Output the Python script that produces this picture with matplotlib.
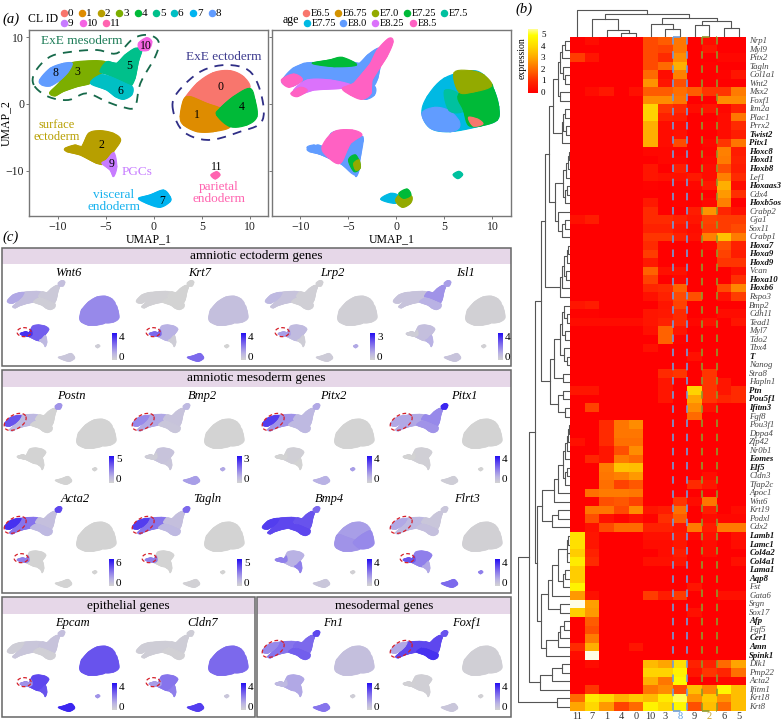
import numpy as np
import matplotlib
matplotlib.use('Agg')
import matplotlib.pyplot as plt
from matplotlib.colors import LinearSegmentedColormap
from matplotlib.patches import Polygon, Rectangle

plt.rcParams['font.family'] = ['Liberation Serif', 'DejaVu Serif']

W, H = 783, 726

# ---- UMAP data: cluster outlines in UMAP units
cluster_ids = list(range(12))
cluster_colors = ['#F8766D', '#DE8C00', '#B79F00', '#7CAE00', '#00BA38', '#00C08B',
                  '#00BFC4', '#00B4F0', '#619CFF', '#C77CFF', '#F564E3', '#FF64B0']
cluster_outlines = [
    [(3.1, .6), (4.5, 3.1), (6.2, 4.7), (7.95, 5), (9.35, 4.1), (10, 2.35), (8.3, 1.1), (6.9, -.65), (5.5, .1), (3.8, 1.1)],
    [(2.75, -1.9), (3.1, .6), (3.8, 1.1), (5.5, .1), (6.9, -.65), (6.55, -1.65), (7.95, -3.4), (6.2, -4.15), (4.5, -4.15), (3.1, -3.15)],
    [(-9.25, -6.65), (-8.2, -6.15), (-7.5, -6.4), (-6.8, -4.4), (-5.6, -4), (-4.2, -4.4), (-3.45, -5.4), (-4.2, -7.15), (-5.05, -8.9), (-5.95, -8.9), (-7.65, -7.65), (-9.05, -7.15)],
    [(-10.85, 1.7), (-9.9, 3.1), (-8.9, 5.1), (-8.55, 6.2), (-5.95, 6.5), (-4.9, 6.1), (-5.6, 4.35), (-6.6, 3.1), (-8, 2.6), (-9.4, 1.9), (-10.3, 1.2)],
    [(6.9, -.65), (8.3, 1.1), (10, 2.35), (10.55, .6), (10.75, -1.9), (9.7, -3.15), (7.95, -3.4), (6.55, -1.65)],
    [(-4.9, 6.35), (-3.85, 6.1), (-3, 7.35), (-1.95, 8.35), (-1.25, 8.1), (-1.6, 6.35), (-1.95, 3.85), (-2.45, 2.6), (-3.15, 2.85), (-4.7, 4.35), (-5.6, 4.85)],
    [(-4.55, 4.1), (-3, 3.1), (-2.2, 2.5), (-2.3, 1.35), (-3.15, .7), (-4, 1.1), (-4.9, 2.1), (-6.6, 3.1), (-5.6, 4.35)],
    [(-1.6, -14.15), (-.4, -13.65), (1, -12.9), (1.7, -13.9), (1.7, -14.65), (.65, -15.5), (-.75, -14.9)],
    [(-11.9, 3.6), (-10.8, 5.35), (-9.4, 6.1), (-8.5, 6.1), (-8.9, 4.85), (-9.75, 3.6), (-10.8, 2.7), (-11.65, 2.85)],
    [(-4.9, -8.4), (-4.15, -7.3), (-3.85, -9.4), (-4.2, -10.9), (-4.55, -9.9), (-5.4, -8.9)],
    [(-1.6, 9.1), (-.75, 9.95), (-.2, 9.35), (-.55, 8.1), (-1.4, 8.1)],
    [(5.95, -10.65), (6.55, -10.15), (6.9, -10.65), (6.4, -11.25)],
]
amnion_tip = [(-9.25, -6.65), (-8.2, -6.15), (-7.5, -6.4), (-7, -5.6), (-6.9, -7.2), (-7.65, -7.65), (-9.05, -7.15)]
cluster_labels_xy = [(6.95, 2.6), (4.5, -1.7), (-5.45, -6.2), (-8, 4.8), (9.15, -.5), (-2.6, 5.7), (-3.5, 1.9),
                     (.85, -14.5), (-10.2, 4.6), (-4.35, -9), (-.85, 8.75), (6.5, -9.5)]

mesoderm_ring = [(-12.5, 2.85), (-12.35, 4.85), (-10.8, 7.1), (-8.5, 7.85), (-5.9, 8.1), (-3.85, 7.6), (-2.1, 9.85),
                 (-.55, 10.35), (.5, 9.35), (.15, 7.1), (-1.4, 3.1), (-1.95, -.4), (-3.15, -.5), (-4.9, .35),
                 (-7, 1.6), (-8.9, .6), (-11, 1.1)]
ectoderm_ring = [(2, -.9), (2.4, 1.6), (4.85, 4.85), (7.6, 5.85), (10.05, 4.85), (11.25, 1.1), (11.25, -2.65),
                 (9, -4.15), (5.7, -5.4), (3.1, -4.15)]

ages = ['E6.5', 'E6.75', 'E7.0', 'E7.25', 'E7.5', 'E7.75', 'E8.0', 'E8.25', 'E8.5']
age_colors = ['#F8766D', '#D39200', '#93AA00', '#00BA38', '#00C19F', '#00B9E3', '#619CFF', '#DB72FB', '#FF61C3']
# clusters painted E8.0 blue first, so the age patches below sit on a closed shape
age_base_clusters = [2, 3, 5, 6, 8, 9]
# (age index, outline), later ones paint over earlier ones
age_regions = [
    (6, [(-11, 4.35), (-9.65, 6.1), (-6.9, 5.85), (-3.75, 5.6), (-2.7, 6.1), (-2, 5.85), (-3.4, 3.6), (-5.15, 3.35), (-8.6, 3.6), (-10, 3.6)]),
    (3, [(-8.8, 6.1), (-7, 6.6), (-5.65, 7), (-4.15, 5.85), (-6.5, 5.6)]),
    (7, [(-10.7, 2.1), (-9.3, 3.6), (-6.9, 3.6), (-4.7, 2.85), (-5.65, 2.35), (-8.6, 2.1), (-10.2, 1.35)]),
    (8, [(-2, 8.1), (-.8, 9.85), (-.35, 9.35), (-1, 7.1), (-2.55, 3.6), (-2.65, 1.6), (-3.6, .7), (-4.8, 1.35), (-5.65, 2.35), (-4.45, 3.1), (-3.4, 4.85), (-2.7, 6.1)]),
    (8, [(-12, 3.6), (-10.7, 4.5), (-9.8, 3.6), (-11.2, 2.5)]),
    (8, [(-11, 1.6), (-10, 2.5), (-9.3, 2), (-10.35, 1.1)]),
    (6, [(-9.3, -6.65), (-8.6, -6.15), (-7.75, -6.65), (-4.6, -5.9), (-3.5, -4.9), (-3.75, -7.9), (-4.25, -10.65), (-5.85, -8.9), (-7.4, -7.9)]),
    (8, [(-7.75, -6.4), (-6.5, -4.15), (-4.6, -3.9), (-3.6, -4.65), (-4.8, -5.9), (-5.85, -8.9), (-7.2, -7.9)]),
    (3, [(-5, -8.4), (-4.25, -7.65), (-3.75, -9.4), (-4.4, -10.15)]),
    (2, [(-4.45, -8.9), (-3.9, -8.4), (-3.8, -9.65), (-4.25, -9.9)]),
    (5, [(2.65, -1.4), (3.2, 1.1), (4.95, 3.85), (7.7, 5), (9.1, 4.35), (10.15, 2.1), (10.65, -.4), (10.5, -2.4), (8.75, -3.3), (5.6, -4.15), (3.55, -3.65)]),
    (6, [(2.65, -1.4), (4, -.5), (5.5, -1), (6.5, -2.5), (6.5, -3.6), (5.6, -4.15), (3.55, -3.65)]),
    (4, [(5, 2), (6.5, 1.5), (7, -1), (5.5, -1)]),
    (3, [(6.5, 1.5), (9.5, 3.2), (10.15, 2.1), (10.65, -.4), (10.5, -2.4), (8.75, -3.3), (7.5, -3.2), (7, -1)]),
    (2, [(6, 4.7), (7.7, 5), (9.1, 4.35), (9.9, 2.7), (8, 1.8), (6.5, 1.8)]),
    (0, [(7.5, -2), (8.5, -2.3), (9, -3), (8, -3.3)]),
    (5, [(-1.65, -14.3), (-.6, -13.4), (.25, -13.8), (-.1, -14.9)]),
    (2, [(-.1, -14.4), (.75, -13.15), (1.6, -13.9), (1.45, -14.9), (.6, -15.5)]),
    (3, [(.25, -13.4), (1.1, -12.75), (1.5, -13.65), (.75, -14.15)]),
    (4, [(5.9, -10.6), (6.5, -10.1), (6.9, -10.6), (6.4, -11.2)]),
]

# ---- feature plots: level per cluster 0..11, last value is the amnion tip of cluster 2
feature_genes = ['Wnt6', 'Krt7', 'Lrp2', 'Isl1', 'Postn', 'Bmp2', 'Pitx2', 'Pitx1',
                 'Acta2', 'Tagln', 'Bmp4', 'Flrt3', 'Epcam', 'Cldn7', 'Fn1', 'Foxf1']
feature_max = [4, 4, 3, 4, 5, 3, 4, 4, 6, 5, 4, 4, 4, 4, 4, 4]
feature_levels = [
    [.45, .45, .65, .15, .45, .08, .05, .1, .3, .2, .15, .05, .85],
    [.15, .15, .25, .02, .15, 0, 0, .6, .02, .05, 0, 0, .6],
    [.03, .03, .18, .12, .03, .03, .03, .06, .2, .05, .02, .3, .35],
    [.02, .02, .15, .12, .02, .4, .25, .12, .12, .25, .35, .02, .05],
    [0, 0, 0, .2, 0, 0, 0, 0, .7, 0, .4, 0, 0],
    [0, 0, .12, .3, 0, .12, .1, .35, .45, .1, .2, .3, .05],
    [0, 0, .03, .4, 0, .2, .2, .25, .8, 0, .3, .35, 0],
    [0, 0, .03, .3, 0, .45, .4, .05, .3, .03, .9, 0, 0],
    [0, 0, 0, .55, 0, .15, .2, 0, .85, 0, .75, 0, .5],
    [0, 0, 0, .55, 0, .15, .2, .02, .8, 0, .6, 0, .5],
    [.35, .4, .25, .75, .45, .7, .75, .1, .8, .5, .6, .02, .5],
    [.02, .02, .5, .2, .02, .1, .15, .6, .3, .3, .1, .5, .7],
    [.7, .7, .75, .1, .7, .12, .03, .9, .05, .7, .15, .4, .4],
    [.6, .6, .55, .05, .6, .05, .02, .8, .05, .5, .05, .1, .35],
    [.15, .15, .3, .55, .15, .6, .65, .55, .45, .3, .75, .05, .2],
    [.03, .03, .03, .75, .03, .75, .85, .1, .3, .03, .7, .02, .02],
]
# which dashed red rings a panel has: m = mesoderm end, t = amnion tip
feature_rings = ['t', 't', 't', '', 'm', 'm', 'm', 'm', 'mt', 'mt', '', 'mt', 't', 't', 'm', 'm']
feature_anchor_x = [66, 195, 324, 452, 63, 191, 321, 449, 63, 191, 321, 449, 66, 195, 321, 449]
feature_anchor_y = [312] * 4 + [435] * 4 + [538] * 4 + [662] * 4
feature_label_x = [68, 200, 332, 465, 71, 202, 333, 464, 75, 207, 329, 467, 72, 203, 333, 467]

# ---- heatmap
col_order = ['11', '7', '1', '4', '0', '10', '3', '8', '9', '2', '6', '5']
genes = ['Nrp1', 'Myl9', 'Pitx2', 'Tagln', 'Col1a1', 'Wnt2', 'Msx2', 'Foxf1', 'Itm2a', 'Plac1', 'Prrx2', 'Twist2', 'Pitx1',
         'Hoxc8', 'Hoxd1', 'Hoxb8', 'Lef1', 'Hoxaas3', 'Cdx4', 'Hoxb5os', 'Crabp2', 'Gja1', 'Sox11', 'Crabp1', 'Hoxa7', 'Hoxa9',
         'Hoxd9', 'Vcan', 'Hoxa10', 'Hoxb6', 'Rspo3', 'Bmp2', 'Cdh11', 'Tead1', 'Myl7', 'Tdo2', 'Tbx4', 'T', 'Nanog', 'Stra8',
         'Hapln1', 'Ptn', 'Pou5f1', 'Ifitm3', 'Fgf8', 'Pou3f1', 'Dppa4', 'Zfp42', 'Nr0b1', 'Eomes', 'Elf5', 'Cldn3', 'Tfap2c',
         'Apoc1', 'Wnt6', 'Krt19', 'Podxl', 'Cdx2', 'Lamb1', 'Lamc1', 'Col4a2', 'Col4a1', 'Lama1', 'Aqp8', 'Fst', 'Gata6',
         'Srgn', 'Sox17', 'Afp', 'Fgf5', 'Cer1', 'Amn', 'Spink1', 'Dlk1', 'Pmp22', 'Acta2', 'Ifitm1', 'Krt18', 'Krt8']
bold_genes = ['Twist2', 'Pitx1', 'Hoxc8', 'Hoxd1', 'Hoxb8', 'Hoxaas3', 'Hoxb5os', 'Hoxa7', 'Hoxa9', 'Hoxd9', 'Hoxa10', 'Hoxb6',
              'T', 'Ptn', 'Pou5f1', 'Ifitm3', 'Eomes', 'Elf5', 'Lamb1', 'Lamc1', 'Col4a2', 'Col4a1', 'Lama1', 'Aqp8', 'Afp',
              'Cer1', 'Amn', 'Spink1']
expression = [
    [0, .3, 0, 0, 0, 1.5, 1.8, 2.2, 0, .3, 0, 0],
    [0, 0, 0, 0, 0, 1.5, 1.4, 2.2, 0, .5, 0, 0],
    [1.3, .5, 0, 0, 0, 1.5, 1, 2.6, 0, 0, .2, .2],
    [0, 0, 0, 0, 0, 1.5, 2, 3.2, 0, .1, 0, 0],
    [0, 0, 0, 0, 0, 2, .3, 2.4, 0, 0, .1, .5],
    [0, 0, 0, 0, 0, 2.7, .5, 1.6, 0, 0, 0, 0],
    [0, .3, .6, 0, .4, 1.8, 1.8, 2.1, 1.8, 1.2, 1.2, 2.3],
    [0, 0, 0, 0, 0, 2.6, 2.6, 2.2, 0, 0, 2.6, 2.6],
    [0, 0, 0, 0, 0, 3.9, 1.2, 1, .3, .5, .2, .8],
    [0, 0, 0, 0, 0, 3.9, .8, .7, 0, 0, .3, 2.2],
    [0, 0, 0, 0, 0, 3.2, .3, .3, 0, .1, .3, 1],
    [0, 0, 0, 0, 0, 3.2, .3, .4, 0, 0, .3, .7],
    [0, 0, 0, 0, 0, 3.2, .3, 1.5, 0, .2, 1.2, 2.2],
    [0, 0, 0, 0, 0, .2, .2, .1, 0, .1, 2.4, .7],
    [0, 0, 0, 0, 0, 0, .2, .2, 0, .2, 2.3, .8],
    [0, 0, 0, 0, 0, .5, 0, .7, 0, .3, 1.6, .7],
    [0, 0, 0, 0, 0, .5, .4, .4, .6, .3, 2.4, 1],
    [0, 0, 0, 0, 0, .1, 0, .1, .2, .6, 3.2, .3],
    [0, 0, 0, 0, 0, 0, 0, .1, 0, 0, 2.8, 1.1],
    [0, 0, 0, 0, 0, .6, 0, .1, 0, .2, 2.4, 0],
    [0, 0, 0, 0, 0, 1, 0, 0, .7, 2.7, .9, .4],
    [.4, .7, 0, 0, 0, 1, 1, .8, .5, 1.4, 1.3, 1.3],
    [0, 0, 0, 0, 0, .8, .8, .5, .3, 1.3, 1.3, 1.5],
    [0, 0, 0, 0, 0, 1.2, 1.2, .8, .4, 2.4, 3.6, 2.3],
    [0, 0, 0, 0, 0, 1, 0, 0, 0, .2, 1.6, .8],
    [0, 0, 0, 0, 0, 1.3, 0, 0, 0, 0, 1.4, .7],
    [0, 0, 0, 0, 0, .6, 0, 0, 0, 0, 1.2, 1.2],
    [0, 0, 0, 0, 0, 1.9, .4, .4, 0, 0, 0, .4],
    [0, 0, 0, 0, 0, 1.4, 0, .2, 0, 0, 0, 1.1],
    [0, 0, 0, 0, 0, .9, 1, 1.9, 0, 0, 1.5, 2.5],
    [0, 0, 0, 0, 0, .4, .8, 1.5, 1.6, 0, .4, 1.3],
    [.5, .7, 0, 0, 0, 0, .5, 1.4, 0, 0, 0, 0],
    [.1, .1, 0, 0, 0, .5, .6, 1, 0, 0, .3, .3],
    [.3, .3, .3, .3, .3, .5, .8, 1, .2, .4, 0, .5],
    [0, 0, 0, 0, 0, .4, 1.9, .5, 0, 0, 0, 0],
    [0, 0, 0, 0, 0, 0, 1.9, .1, 0, 0, 0, 0],
    [0, 0, 0, 0, 0, .4, 0, 0, 0, 0, 0, 0],
    [0, 0, 0, 0, 0, 0, 0, 0, .4, 0, 0, 0],
    [0, 0, 0, 0, 0, 0, 0, 0, 0, 0, 0, 0],
    [0, 0, 0, 0, 0, 0, 1, 1.2, 0, 1.2, 0, 0],
    [0, 0, 0, 0, 0, 0, .5, 0, 0, 1.2, .5, 0],
    [.5, .5, 0, 0, 0, 0, .5, 0, 3.9, 1.2, .5, 1],
    [0, 0, 0, 0, 0, 0, .5, 0, 3, 1.2, .9, 1],
    [0, 1.4, 0, 0, 0, 0, 0, 0, 2.6, .4, 0, 0],
    [0, 0, 0, 0, 0, 0, 0, 0, 2, 0, 0, 0],
    [0, 0, 1, 2.2, 2.6, 0, 0, 0, 0, 0, 0, 0],
    [0, 0, 1, 2.2, 2.2, 0, 0, 0, 0, 0, 0, 0],
    [.4, 0, 1, 2.1, 2.1, 0, 0, 0, 0, 0, 0, 0],
    [0, 0, .5, 1.6, 2.6, 0, 0, 0, 0, 0, 0, 0],
    [0, .9, .5, 2.3, 2, 0, 0, 0, 0, 0, 0, 0],
    [0, 0, 2.3, 3.6, 3.5, 0, 0, 0, 0, 0, 0, 0],
    [0, 0, 2.2, 2.4, 2.8, 0, 0, 0, 0, .3, 0, 0],
    [0, 0, 2.1, 1.4, 1.7, 0, 0, 0, 1, .5, 0, 0],
    [0, 2.1, 2.3, 2.3, 2.2, 0, 0, 0, 0, 0, 0, 0],
    [0, 0, 1.6, 1.7, 1.4, 0, 0, 1.2, .3, 2.2, 0, 0],
    [0, 2.2, 2.2, 1.5, 2.6, .5, .7, 2.1, 0, .7, 0, .3],
    [0, 1.6, .4, .1, .4, .1, 1.1, 1.8, 0, .3, .2, .2],
    [0, .4, 1.5, 2, 2, .8, .8, .5, 2.3, .7, 2.3, 2.3],
    [4.2, .5, 0, 0, 0, .4, .4, .6, .2, .4, 0, .4],
    [4.2, .5, 0, 0, 0, .3, .3, .5, 0, .3, 0, .3],
    [3.8, .8, 0, 0, 0, 0, .3, .7, 0, .3, 0, 0],
    [4.5, 1, 0, 0, 0, .4, .4, .5, 0, 0, 0, .4],
    [3.8, 0, 0, 0, 0, 0, 0, 0, 0, 0, 0, 0],
    [3.8, 0, 0, 0, 0, 0, 0, 0, 0, 0, 0, 0],
    [4.7, 0, 0, 0, 0, 0, 0, 0, .5, 0, 0, 0],
    [2.8, .4, 0, 0, 0, 1.3, .7, 1.3, 0, 0, .4, .4],
    [5.8, 2.9, 0, 0, 0, 0, 0, 0, 0, 0, 0, 0],
    [3.8, 2.8, 0, 0, 0, 0, 0, 0, .4, 0, 0, 0],
    [0, 1.8, 0, 0, 0, 0, 0, 0, 0, 0, 0, 0],
    [0, 1.6, 0, 0, 0, 0, 0, 0, 0, 0, 0, 0],
    [0, 2.3, 0, 0, 0, 0, 0, 0, 0, 0, 0, 0],
    [1, 3.2, 0, 0, .5, 0, 0, 0, 0, 0, 0, 0],
    [.3, 5.8, 0, 0, 0, 0, 0, 0, 0, 0, 0, 0],
    [0, .3, 0, 0, 0, 3.4, 3, 4.2, .8, .8, 2, 3],
    [0, 0, 0, 0, 0, 3.9, 3.9, 4.7, .5, 1.2, .9, 2.1],
    [0, 0, 0, 0, 0, 3.2, 2.2, 4.9, 0, 0, .2, .2],
    [0, 1.2, 0, 0, 0, 2.2, 2.6, 1.6, 3.5, 2.5, 4.8, 3.5],
    [2, 4.5, 4, 3.3, 3.7, 3.4, 4.5, 5.3, 2.7, 3.7, 2.7, 3.5],
    [3, 4, 2.8, 1.4, 2, 4.7, 4, 4.8, 1.6, 3.5, 2, 3.5],
]

# dendrograms as (height, left, right), leaves are row / column numbers
col_tree = (27, 0, (23, (18, 1, (7, 2, (3.5, 3, 4))), (19, (13, 5, (8, 6, 7)), (16, (12, 8, 9), (9, 10, 11)))))
t_a = (12, (10, (8, (5, 0, 1), 2), (7, 3, (5, 4, 5))), (10, 6, 7))
t_b = (8, (7, (5, 8, 9), (4, 10, 11)), 12)
t_c = (7, (4, (2.5, (1.5, 13, 14), 15), 16), (5, (3, 17, 18), 19))
t_d = (12, 20, (8, (5, 21, 22), 23))
t_e = (10, (8, (6, (3.5, (2, 24, 25), 26), (4.5, 27, 28)), 29), 30)
t_f = (16, (10, (8, (6, 31, (3, 32, 33)), (5, 34, 35)), (6, 36, (3, 37, 38))), (7, 39, 40))
t_g = (12, (7, 41, 42), (5, 43, 44))
t_h = (7, (5, (3, (2, (1.5, 45, 46), 47), 48), 49), (5, (3, 50, 51), 52))
t_k = (18, (12, 55, 56), 57)
t_m = (18, (12, (3.5, (2, 58, 59), (3, 60, 61)), (7, (5, 62, 63), 64)), 65)
t_o = (24, (12, (10, (6, 68, 69), 70), 71), 72)
upper = (29, (25, (21, (17, t_a, t_b), (15, t_c, t_d)), t_e), (20, t_f, t_g))
lower = (33, (28, (16, (12, t_h, 53), 54), t_k), (29, (22, t_m, (10, 66, 67)), t_o))
row_tree = (52, (41, (35, upper, lower), (30, (18, (8, 73, 74), 75), 76)), (13, 77, 78))


def px_axes(fig, x0, y0, x1, y1, **kw):
    return fig.add_axes([x0 / W, 1 - y1 / H, (x1 - x0) / W, (y1 - y0) / H], **kw)


def smooth(poly, steps=6):
    # closed Catmull-Rom through the outline points, only to round the corners
    p = np.array(poly, dtype=float)
    out = []
    for i in range(len(p)):
        p0, p1, p2, p3 = p[i - 1], p[i], p[(i + 1) % len(p)], p[(i + 2) % len(p)]
        for t in np.arange(steps) / steps:
            out.append(.5 * (2 * p1 + (p2 - p0) * t + (2 * p0 - 5 * p1 + 4 * p2 - p3) * t ** 2
                             + (3 * p1 - p0 - 3 * p2 + p3) * t ** 3))
    return np.array(out)


def blob(ax, poly, color, lw=.8, zorder=2):
    # the straight outline underneath closes the seams between neighbouring clusters
    ax.add_patch(Polygon(poly, closed=True, fc=color, ec=color, lw=lw, zorder=zorder))
    ax.add_patch(Polygon(smooth(poly), closed=True, fc=color, ec=color, lw=lw, zorder=zorder))


def tree(ax, node, horizontal):
    # returns leaf-axis position and height of the node
    if not isinstance(node, tuple):
        return node, 0
    h, a, b = node
    pa, ha = tree(ax, a, horizontal)
    pb, hb = tree(ax, b, horizontal)
    ps, hs = [pa, pa, pb, pb], [ha, h, h, hb]
    if horizontal:
        ax.plot(hs, ps, color='#555555', lw=.8, solid_capstyle='projecting')
    else:
        ax.plot(ps, hs, color='#555555', lw=.8, solid_capstyle='projecting')
    return (pa + pb) / 2, h


def ring(ax, cx, cy, wpx, hpx, angle, sx, sy):
    t = np.linspace(0, 2 * np.pi, 80)
    a = np.deg2rad(angle)
    u, v = wpx / 2 * np.cos(t), hpx / 2 * np.sin(t)
    ax.plot(cx + (u * np.cos(a) - v * np.sin(a)) / sx, cy + (u * np.sin(a) + v * np.cos(a)) / sy,
            color='#d6202a', lw=.9, ls=(0, (3, 2)), zorder=6, clip_on=False)


fig = plt.figure(figsize=(W / 100, H / 100), dpi=100)
over = px_axes(fig, 0, 0, W, H)
over.set_xlim(0, W)
over.set_ylim(H, 0)
over.axis('off')

# ---- panel (a)
frame_c = '#777777'
ax_a = px_axes(fig, 29, 30, 268, 216)
ax_b = px_axes(fig, 271.7, 30, 510.7, 216)
for ax in (ax_a, ax_b):
    ax.set_xlim(-13, 11.9)
    ax.set_ylim(-16.8, 11.1)
    ax.set_xticks([-10, -5, 0, 5, 10])
    ax.set_yticks([-10, 0, 10])
    ax.tick_params(labelsize=8.5, length=2, width=.7, color=frame_c, pad=1.5, labelcolor='#222222')
    for s in ax.spines.values():
        s.set_color(frame_c)
        s.set_linewidth(1)
    ax.set_xlabel('UMAP_1', fontsize=8.5, labelpad=0)
ax_a.set_ylabel('UMAP_2', fontsize=8.5)
ax_a.yaxis.set_label_coords(-.07, .5)
ax_b.set_yticklabels([])

for i in cluster_ids:
    blob(ax_a, cluster_outlines[i], cluster_colors[i])
    ax_a.text(*cluster_labels_xy[i], str(i), fontsize=8.5, ha='center', va='center', zorder=5)
ax_a.add_patch(Polygon(smooth(mesoderm_ring), closed=True, fc='none', ec='#16694a', lw=1.3, ls=(0, (5, 4)), zorder=4))
ax_a.add_patch(Polygon(smooth(ectoderm_ring), closed=True, fc='none', ec='#2f2e86', lw=1.3, ls=(0, (5, 4)), zorder=4))
ax_a.text(-7.5, 9.4, 'ExE mesoderm', color='#1d7c57', fontsize=9.5, ha='center', va='center')
ax_a.text(7.3, 7, 'ExE ectoderm', color='#3d3b8e', fontsize=9.5, ha='center', va='center')
ax_a.text(-10.1, -4, 'surface\nectoderm', color='#b79f00', fontsize=9, ha='center', va='center', linespacing=1)
ax_a.text(-1.77, -10.2, 'PGCs', color='#c77cff', fontsize=9.5, ha='center', va='center')
ax_a.text(-4.15, -14.6, 'visceral\nendoderm', color='#17b2ee', fontsize=9.5, ha='center', va='center', linespacing=1)
ax_a.text(6.8, -13.4, 'parietal\nendoderm', color='#ff64b0', fontsize=9.5, ha='center', va='center', linespacing=1)

for i in age_base_clusters:
    blob(ax_b, cluster_outlines[i], age_colors[6])
for idx, poly in age_regions:
    blob(ax_b, poly, age_colors[idx])

cl_x = [64, 82, 101, 119, 138, 156, 174, 193, 212, 64, 83, 106]
cl_y = [13] * 9 + [23] * 3
for i in cluster_ids:
    over.plot(cl_x[i], cl_y[i], 'o', ms=4.4, color=cluster_colors[i])
    over.text(cl_x[i] + 4, cl_y[i], str(i), fontsize=8, va='center')
over.text(28, 19, 'CL ID', fontsize=8.5, va='center')

age_x = [306, 338, 375, 407, 444, 307, 343, 375, 413]
age_y = [13] * 5 + [23] * 4
for i, a in enumerate(ages):
    over.plot(age_x[i], age_y[i], 'o', ms=4.4, color=age_colors[i])
    over.text(age_x[i] + 5, age_y[i], a, fontsize=7.5, va='center')
over.text(283, 20, 'age', fontsize=8.5, va='center')

over.text(2, 19, '(a)', fontsize=10.5, style='italic', va='center')
over.text(515, 9, '(b)', fontsize=10.5, style='italic', va='center')
over.text(2, 237, '(c)', fontsize=10.5, style='italic', va='center')

# ---- panel (c) boxes
boxes = [(1.5, 247.5, 510.7, 366, 'amniotic ectoderm genes', 264),
         (1.5, 370, 510.7, 593, 'amniotic mesoderm genes', 387),
         (1.5, 597, 255, 717, 'epithelial genes', 614),
         (257, 597, 510.7, 717, 'mesodermal genes', 614)]
for x0, y0, x1, y1, title, yh in boxes:
    over.add_patch(Rectangle((x0, y0), x1 - x0, yh - y0, fc='#e6d7e8', ec='none', zorder=1))
    over.add_patch(Rectangle((x0, y0), x1 - x0, y1 - y0, fc='none', ec='#666666', lw=1.1, zorder=2))
    over.text((x0 + x1) / 2, (y0 + yh) / 2, title, fontsize=9.5, ha='center', va='center')

sx, sy = 4.93, 3.2
feat_cmap = LinearSegmentedColormap.from_list('feat', ['#d3d3d3', '#b9b2e4', '#8f7feb', '#5f48ee', '#2410f2'])
grad = np.linspace(1, 0, 64).reshape(-1, 1)
for g, gene in enumerate(feature_genes):
    x0, y0 = feature_anchor_x[g], feature_anchor_y[g]
    ax = px_axes(fig, x0 - 64, y0 - 32, x0 + 62, y0 + 52)
    ax.set_xlim(-64 / sx, 62 / sx)
    ax.set_ylim(-52 / sy, 32 / sy)
    ax.axis('off')
    ax.patch.set_alpha(0)
    lv = feature_levels[g]
    for i in cluster_ids:
        blob(ax, cluster_outlines[i], feat_cmap(lv[i]), lw=.5)
    blob(ax, amnion_tip, feat_cmap(lv[12]), lw=.5, zorder=3)
    if 'm' in feature_rings[g]:
        ring(ax, -9.7, 4.1, 24, 14, 30, sx, sy)
    if 't' in feature_rings[g]:
        ring(ax, -8.5, -6.3, 14, 9, 0, sx, sy)
    over.text(feature_label_x[g], y0 - 39, gene, fontsize=9, style='italic', ha='center', va='center')
    cb = px_axes(fig, x0 + 46, y0 + 21, x0 + 51, y0 + 48)
    cb.imshow(grad, cmap=feat_cmap, aspect='auto')
    cb.axis('off')
    over.text(x0 + 53, y0 + 25, str(feature_max[g]), fontsize=8, va='center')
    over.text(x0 + 53, y0 + 45, '0', fontsize=8, va='center')

# ---- panel (b)
heat_cmap = LinearSegmentedColormap.from_list(
    'heat', [(0, '#ff0000'), (1 / 5.8, '#ff2a00'), (2 / 5.8, '#ff6a00'), (3 / 5.8, '#ffa500'),
             (4 / 5.8, '#ffd800'), (5 / 5.8, '#ffff00'), (1, '#fffde6')])
hm = px_axes(fig, 570, 36.7, 746, 711)
hm.imshow(np.array(expression), cmap=heat_cmap, vmin=0, vmax=5.8, aspect='auto', interpolation='nearest')
hm.axis('off')
for i, gene in enumerate(genes):
    hm.text(11.72, i, gene, fontsize=6.3, style='italic', va='center',
            fontweight='bold' if gene in bold_genes else 'normal',
            color='#111111' if gene in bold_genes else '#444444')
for j, c in enumerate(col_order):
    color = {'8': '#5b9be0', '2': '#c9a227'}.get(c, '#333333')
    hm.text(j, 79.1, c, fontsize=7.5, ha='center', va='center', color=color, clip_on=False)
for a, b, color in [(7, 8, '#6f9ddb'), (9, 10, '#8f9a2c')]:
    for xx in (a - .5, b - .5):
        hm.plot([xx, xx], [-.5, 78.5], color=color, lw=1.2, ls=(0, (4.5, 4)))
    for yy in (-.5, 78.5):
        hm.plot([a - .5, b - .5], [yy, yy], color=color, lw=1.2, ls=(0, (4.5, 4)), clip_on=False)
hm.set_xlim(-.5, 11.5)
hm.set_ylim(78.5, -.5)

cd = px_axes(fig, 570, 8, 746, 36.7)
cd.set_xlim(-.5, 11.5)
cd.set_ylim(0, 28.7)
cd.axis('off')
tree(cd, col_tree, False)

rd = px_axes(fig, 518, 36.7, 570, 711)
rd.set_xlim(52, 0)
rd.set_ylim(78.5, -.5)
rd.axis('off')
tree(rd, row_tree, True)

bar = px_axes(fig, 528, 29, 538, 93)
bar.imshow(np.linspace(5.5, 0, 100).reshape(-1, 1), cmap=heat_cmap, vmin=0, vmax=5.8, aspect='auto')
bar.axis('off')
for v in range(6):
    over.text(541, 93 - v * 11.6, str(v), fontsize=6.5, va='center')
over.text(522, 58, 'expression', fontsize=7, rotation=90, ha='center', va='center')

fig.savefig('out.png', dpi=100)
